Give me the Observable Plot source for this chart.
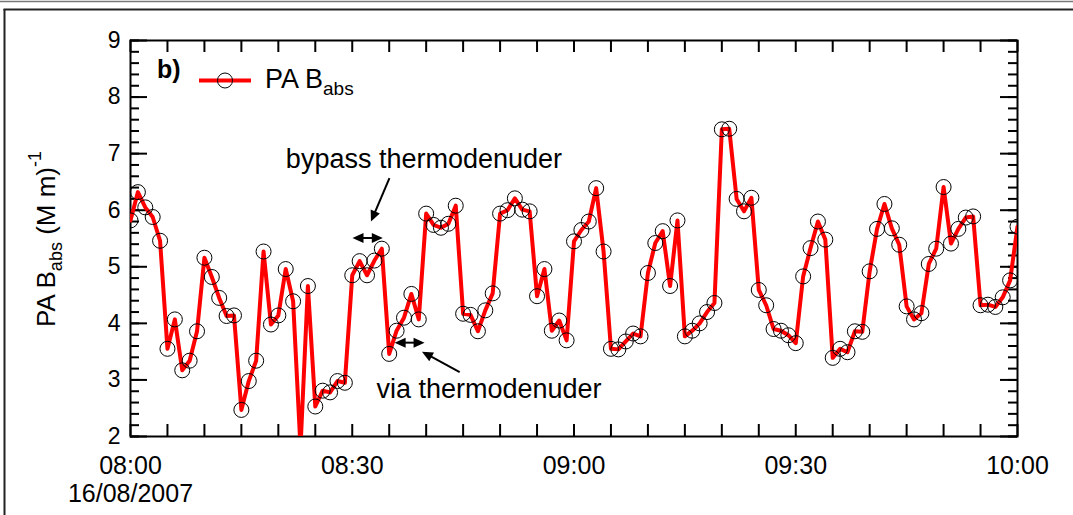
<!DOCTYPE html>
<html><head><meta charset="utf-8">
<script src="https://cdn.jsdelivr.net/npm/d3@7"></script>
<script src="https://cdn.jsdelivr.net/npm/@observablehq/plot@0.6"></script>
<style>body{margin:0;background:#fff;}</style>
</head><body><div id="chart"></div>
<script>
// ---- data ----
const startTime = "2007-08-16T08:00:00Z";
const stepMinutes = 1;
const values = [
  5.82, 6.32, 6.05, 5.88, 5.46, 3.55, 4.07, 3.17, 3.34, 3.86,
  5.16, 4.82, 4.45, 4.13, 4.14, 2.47, 2.98, 3.34, 5.27, 3.98,
  4.14, 4.96, 4.39, 1.80, 4.66, 2.53, 2.81, 2.78, 2.98, 2.95,
  4.85, 5.10, 4.85, 5.11, 5.32, 3.46, 3.87, 4.10, 4.52, 4.07,
  5.94, 5.74, 5.69, 5.76, 6.08, 4.17, 4.15, 3.86, 4.23, 4.53,
  5.94, 6.00, 6.21, 6.01, 5.98, 4.48, 4.96, 3.87, 4.05, 3.70,
  5.45, 5.65, 5.80, 6.39, 5.27, 3.55, 3.54, 3.68, 3.82, 3.77,
  4.89, 5.42, 5.63, 4.66, 5.82, 3.77, 3.87, 4.00, 4.20, 4.36,
  7.43, 7.44, 6.20, 5.98, 6.22, 4.59, 4.32, 3.90, 3.87, 3.79,
  3.65, 4.83, 5.33, 5.80, 5.48, 3.39, 3.55, 3.49, 3.86, 3.85,
  4.92, 5.67, 6.11, 5.68, 5.39, 4.30, 4.07, 4.18, 5.05, 5.32,
  6.41, 5.41, 5.67, 5.87, 5.89, 4.32, 4.33, 4.29, 4.46, 4.76,
  5.71
];
const xTickLabels = ["08:00", "08:30", "09:00", "09:30", "10:00"];
const dateLabel = "16/08/2007";
const yTickLabels = [2, 3, 4, 5, 6, 7, 8, 9];
const seriesName = ["PA B", "abs"];
const yTitle = ["PA B", "abs", " (M m)", "-1"];
const panelLabel = "b)";
const annotationTexts = [
  {text: "bypass thermodenuder", minute: 39.7, value: 6.90},
  {text: "via thermodenuder", minute: 48.5, value: 2.83}
];
const singleArrows = [
  {m1: 35.1, v1: 6.56, m2: 32.6, v2: 5.79},
  {m1: 44.6, v1: 3.13, m2: 39.5, v2: 3.49}
];
const doubleArrows = [
  {m1: 30.1, m2: 34.2, v: 5.50},
  {m1: 35.8, m2: 39.85, v: 3.65}
];

// ---- derived ----
const t0 = new Date(startTime);
const atMinute = m => new Date(+t0 + m * 60000);
const data = values.map((v, i) => ({time: atMinute(i * stepMinutes), value: v}));
const t1 = atMinute((values.length - 1) * stepMinutes);
const parseHM = s => new Date(`2007-08-16T${s}:00Z`);
const xMajor = xTickLabels.map(parseHM);
const xMinor = d3.utcMinute.every(5).range(t0, new Date(+t1 + 1));
const yMinor = d3.range(20, 91, 2).map(d => d / 10);
const xLabelText = xTickLabels.map((s, i) => i === 0 ? s + "\n" + dateLabel : s);

const W = 1073, H = 515;
const font = "'Liberation Sans', Arial, sans-serif";

const plot = Plot.plot({
  width: W, height: H,
  marginLeft: 130, marginRight: 56, marginTop: 40, marginBottom: 79,
  style: {fontFamily: font, background: "white", overflow: "visible", color: "black"},
  x: {type: "utc", domain: [t0, t1], axis: null},
  y: {domain: [2, 9], axis: null},
  marks: [
    // ticks inward
    Plot.ruleX(xMinor, {x: d => d, y1: () => 2, y2: () => 2, insetTop: -12, stroke: "black", strokeWidth: 2}),
    Plot.ruleX(xMinor, {x: d => d, y1: () => 9, y2: () => 9, insetBottom: -12, stroke: "black", strokeWidth: 2}),
    Plot.ruleY(yMinor, {y: d => d, x1: () => t0, x2: () => t0, insetRight: -9, stroke: "black", strokeWidth: 2}),
    Plot.ruleY(yTickLabels, {y: d => d, x1: () => t0, x2: () => t0, insetRight: -17, stroke: "black", strokeWidth: 2}),
    Plot.ruleY(yMinor, {y: d => d, x1: () => t1, x2: () => t1, insetLeft: -9, stroke: "black", strokeWidth: 2}),
    Plot.ruleY(yTickLabels, {y: d => d, x1: () => t1, x2: () => t1, insetLeft: -17, stroke: "black", strokeWidth: 2}),
    Plot.frame({stroke: "black", strokeWidth: 2}),
    // tick labels
    Plot.text(xMajor, {x: d => d, y: () => 2, dy: 18, lineAnchor: "top", lineHeight: 1.1, text: (d, i) => xLabelText[i], fontSize: 25, fill: "black"}),
    Plot.text(yTickLabels, {x: () => t0, y: d => d, dx: -10, text: d => String(d), textAnchor: "end", fontSize: 23, fill: "black"}),
    // data
    Plot.line(data, {x: "time", y: "value", stroke: "#ff0000", strokeWidth: 4, clip: true}),
    Plot.dot(data, {x: "time", y: "value", r: 7.5, stroke: "black", strokeWidth: 1, fill: "none", clip: true}),
    // annotations
    Plot.text(annotationTexts, {x: d => atMinute(d.minute), y: "value", text: "text", fontSize: 27, fill: "black"})
  ]
});

document.getElementById("chart").appendChild(plot);

const svg = d3.select(plot);
const xs = plot.scale("x"), ys = plot.scale("y");
const px = m => xs.apply(atMinute(m));
const py = v => ys.apply(v);

// outer page frame
svg.append("line").attr("x1", 0).attr("x2", W).attr("y1", 1.5).attr("y2", 1.5).attr("stroke", "#777").attr("stroke-width", 1.5);
svg.append("line").attr("x1", 3.5).attr("x2", W).attr("y1", 9.5).attr("y2", 9.5).attr("stroke", "#222").attr("stroke-width", 2);
svg.append("line").attr("x1", 4.5).attr("x2", 4.5).attr("y1", 9).attr("y2", H).attr("stroke", "#222").attr("stroke-width", 2);

// arrows
const g = svg.append("g");
function head(xa, ya, xb, yb) {
  const a = Math.atan2(yb - ya, xb - xa), L = 11, w = 5;
  const bx = xb - L * Math.cos(a), by = yb - L * Math.sin(a);
  g.append("polygon")
    .attr("points", [[xb, yb], [bx + w * Math.sin(a), by - w * Math.cos(a)], [bx - w * Math.sin(a), by + w * Math.cos(a)]].map(p => p.join(",")).join(" "))
    .attr("fill", "black");
  return [bx + 2 * Math.cos(a), by + 2 * Math.sin(a)];
}
singleArrows.forEach(d => {
  const xa = px(d.m1), ya = py(d.v1), xb = px(d.m2), yb = py(d.v2);
  const [ex, ey] = head(xa, ya, xb, yb);
  g.append("line").attr("x1", xa).attr("y1", ya).attr("x2", ex).attr("y2", ey).attr("stroke", "black").attr("stroke-width", 2);
});
doubleArrows.forEach(d => {
  const xa = px(d.m1), xb = px(d.m2), y = py(d.v);
  const [e1] = head(xa, y, xb, y);
  const [e0] = head(xb, y, xa, y);
  g.append("line").attr("x1", e0).attr("y1", y).attr("x2", e1).attr("y2", y).attr("stroke", "black").attr("stroke-width", 2);
});

// legend
const lg = svg.append("g").attr("font-family", font).attr("text-anchor", "start");
lg.append("text").attr("x", 157).attr("y", 78).attr("font-size", 25).attr("font-weight", "bold").text(panelLabel);
lg.append("line").attr("x1", 199).attr("x2", 251).attr("y1", 80.5).attr("y2", 80.5).attr("stroke", "#ff0000").attr("stroke-width", 4);
lg.append("circle").attr("cx", 225).attr("cy", 80.5).attr("r", 7.5).attr("fill", "none").attr("stroke", "black").attr("stroke-width", 1);
const lt = lg.append("text").attr("x", 265).attr("y", 88).attr("font-size", 27);
lt.append("tspan").text(seriesName[0]);
lt.append("tspan").attr("font-size", 19).attr("dy", 7).text(seriesName[1]);

// y title
const yt = svg.append("text").attr("font-family", font).attr("font-size", 26)
  .attr("text-anchor", "middle").attr("transform", "translate(55,239) rotate(-90)");
yt.append("tspan").text(yTitle[0]);
yt.append("tspan").attr("font-size", 18).attr("dy", 7).text(yTitle[1]);
yt.append("tspan").attr("dy", -7).text(yTitle[2]);
yt.append("tspan").attr("font-size", 18).attr("dy", -14).text(yTitle[3]);
</script>
</body></html>
